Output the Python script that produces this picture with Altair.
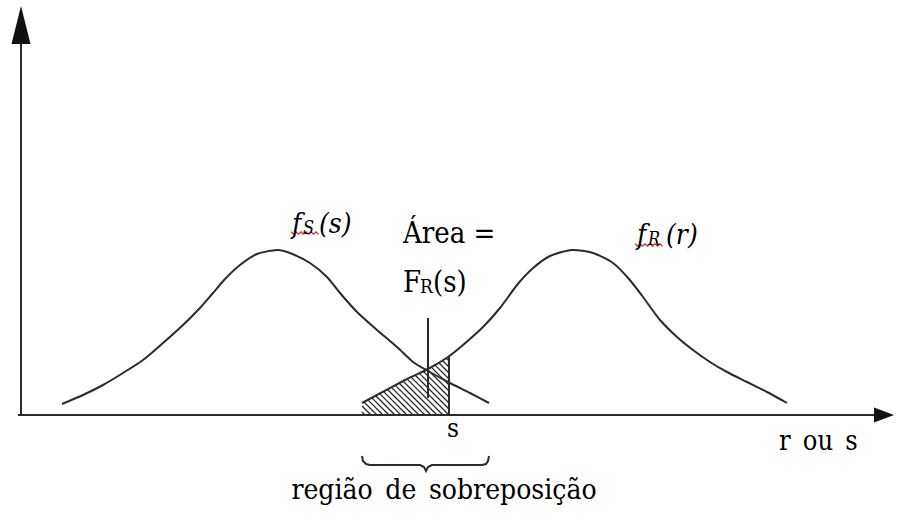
import altair as alt
import pandas as pd

# Stress density f_S(s): points along the curve (position on r/s axis, density height)
s_x = [41, 62, 82, 102, 122, 142, 162, 179, 192, 204, 219, 236, 256, 269, 289, 306,
       319, 336, 356, 376, 392, 407, 429, 449, 468]
s_y = [11, 20, 30, 42, 55, 72, 90, 107, 122, 136, 150, 161, 165, 162, 152, 138,
       122, 103, 85, 68, 53, 44, 32, 22, 12]

# Resistance density f_R(r)
r_x = [341, 384, 407, 427, 442, 462, 479, 496, 511, 529, 551, 572, 592, 608, 622, 639,
       656, 672, 689, 706, 726, 746, 766]
r_y = [12, 35, 46, 58, 70, 88, 107, 130, 146, 159, 165, 162, 152, 136, 118, 95,
       78, 65, 53, 43, 33, 23, 12]

# Hatched area F_R(s) below f_R up to the value s
hatch_x = [341, 341, 428, 428]
hatch_y = [0, 12, 58, 0]
s_value = 428
cross_x = 407           # marker line through the crossing of both densities
cross_y = [17, 97]

# Brace below the axis marking the overlap region
brace_x = [341, 342, 345, 349, 399, 403, 405, 407, 411, 461, 465, 467, 468]
brace_y = [-41, -46, -49, -50, -50, -52, -56, -52, -50, -50, -49, -46, -41]

X_DOM = [-21, 885]
Y_DOM = [-105, 415]
INK = "#2b2b2b"
SERIF = "DejaVu Serif Condensed, DejaVu Serif"

xs = alt.Scale(domain=X_DOM, nice=False, zero=False)
ys = alt.Scale(domain=Y_DOM, nice=False, zero=False)


def xy(**extra):
    return dict(x=alt.X("x:Q", scale=xs, axis=None),
                y=alt.Y("y:Q", scale=ys, axis=None), **extra)


# ---- curves -------------------------------------------------------------
curves = pd.DataFrame(
    [{"x": a, "y": b, "curve": "S", "i": i} for i, (a, b) in enumerate(zip(s_x, s_y))]
    + [{"x": a, "y": b, "curve": "R", "i": i} for i, (a, b) in enumerate(zip(r_x, r_y))]
)
curve_layer = alt.Chart(curves).mark_line(
    color=INK, strokeWidth=2, interpolate="cardinal", tension=0.3
).encode(**xy(detail="curve:N", order="i:Q"))

# ---- hatching (diagonal lines clipped to the shaded polygon) ------------
def clip_diag(c):
    pts = []
    n = len(hatch_x)
    for k in range(n):
        x1, y1 = hatch_x[k], hatch_y[k]
        x2, y2 = hatch_x[(k + 1) % n], hatch_y[(k + 1) % n]
        f1, f2 = x1 + y1 - c, x2 + y2 - c
        if f1 == f2:
            continue
        t = f1 / (f1 - f2)
        if 0 <= t <= 1:
            pts.append((x1 + t * (x2 - x1), y1 + t * (y2 - y1)))
    if len(pts) < 2:
        return None
    pts.sort()
    return pts[0], pts[-1]


sums = [a + b for a, b in zip(hatch_x, hatch_y)]
rows = []
c = min(sums) + 3
while c < max(sums):
    seg = clip_diag(c)
    if seg:
        (xa, ya), (xb, yb) = seg
        rows.append({"x": xa, "y": ya, "x2": xb, "y2": yb})
    c += 6
hatch = pd.DataFrame(rows)
hatch_layer = alt.Chart(hatch).mark_rule(color="#222", strokeWidth=1.2).encode(
    x=alt.X("x:Q", scale=xs, axis=None), y=alt.Y("y:Q", scale=ys, axis=None),
    x2="x2:Q", y2="y2:Q")

# ---- straight lines: axes, s edge, crossing marker -----------------------
rules = pd.DataFrame([
    {"x": 0, "y": -1, "x2": 0, "y2": 385, "w": 2},
    {"x": -3, "y": 0, "x2": 858, "y2": 0, "w": 2},
    {"x": s_value, "y": 0, "x2": s_value, "y2": 58, "w": 2},
    {"x": cross_x, "y": cross_y[0], "x2": cross_x, "y2": cross_y[1], "w": 2},
])
rule_layer = alt.Chart(rules).mark_rule(color=INK).encode(
    x=alt.X("x:Q", scale=xs, axis=None), y=alt.Y("y:Q", scale=ys, axis=None),
    x2="x2:Q", y2="y2:Q", strokeWidth=alt.StrokeWidth("w:Q", scale=None))

# ---- arrow heads --------------------------------------------------------
up_head = alt.Chart(pd.DataFrame({"x": [0], "y": [390]})).mark_point(
    shape="M0,-1L0.5,1L-0.5,1Z", size=1444, filled=True, opacity=1, color="#111"
).encode(**xy())
right_head = alt.Chart(pd.DataFrame({"x": [863], "y": [0]})).mark_point(
    shape="M1,0L-1,-0.75L-1,0.75Z", size=400, filled=True, opacity=1, color="#111"
).encode(**xy())

# ---- brace --------------------------------------------------------------
brace = pd.DataFrame({"x": brace_x, "y": brace_y, "i": range(len(brace_x))})
brace_layer = alt.Chart(brace).mark_line(color=INK, strokeWidth=2).encode(
    **xy(order="i:Q"))

# ---- spell-check style squiggles under the density names ----------------
sq_rows = []
for name, x0, x1, yb in [("S", 270, 299, 182), ("R", 614, 642, 170)]:
    k = 0
    xv = x0
    while xv <= x1:
        sq_rows.append({"x": xv, "y": yb + (-1.2 if k % 2 else 1.2), "g": name, "i": k})
        xv += 2.5
        k += 1
squig = pd.DataFrame(sq_rows)
squig_layer = alt.Chart(squig).mark_line(color="#e3262b", strokeWidth=1.2).encode(
    **xy(detail="g:N", order="i:Q"))

# ---- text ---------------------------------------------------------------
center_txt = pd.DataFrame([
    {"x": 432, "y": -22, "t": "s", "fs": 26},
    {"x": 423, "y": -84, "t": "região\u2002de\u2002sobreposição", "fs": 28},
])
left_txt = pd.DataFrame([
    {"x": 758, "y": -35, "t": "r\u2002ou\u2002s", "fs": 27},
    {"x": 382, "y": 172, "t": "Área =", "fs": 29},
    {"x": 382, "y": 123, "t": "F", "fs": 29},
    {"x": 399, "y": 122, "t": "R", "fs": 19},
    {"x": 412, "y": 123, "t": "(s)", "fs": 29},
])
ital_txt = pd.DataFrame([
    {"x": 271, "y": 182, "t": "f", "fs": 28},
    {"x": 282, "y": 181, "t": "S", "fs": 18},
    {"x": 298, "y": 182, "t": "(s)", "fs": 28},
    {"x": 616, "y": 171, "t": "f", "fs": 28},
    {"x": 627, "y": 170, "t": "R", "fs": 18},
    {"x": 645, "y": 171, "t": "(r)", "fs": 28},
])


def text_layer(df, align, style="normal"):
    return alt.Chart(df).mark_text(
        align=align, baseline="alphabetic", font=SERIF, fontStyle=style, color="#000"
    ).encode(**xy(text="t:N", size=alt.Size("fs:Q", scale=None)))


chart = alt.layer(
    hatch_layer, curve_layer, rule_layer, up_head, right_head, brace_layer,
    squig_layer,
    text_layer(center_txt, "center"),
    text_layer(left_txt, "left"),
    text_layer(ital_txt, "left", "italic"),
).properties(
    width=906, height=520, padding=0, autosize=alt.AutoSizeParams(type="none"),
    background="white",
).configure_view(stroke=None)

chart.save("out.html", embed_options={"renderer": "svg", "actions": False})
